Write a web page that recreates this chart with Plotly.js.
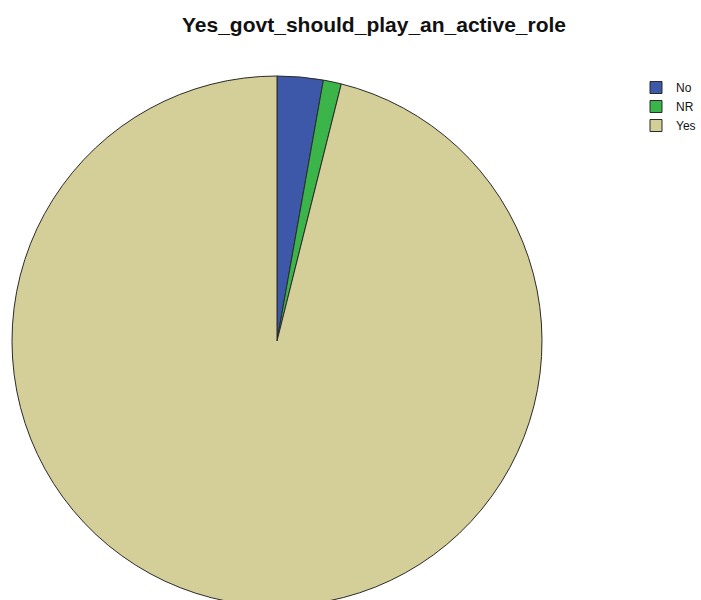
<!DOCTYPE html>
<html>
<head>
<meta charset="utf-8">
<script src="https://cdn.plot.ly/plotly-3.0.1.min.js"></script>
<style>html,body{margin:0;padding:0;overflow:hidden;background:#fff;}</style>
</head>
<body>
<div id="chart" style="width:701px;height:612px;"></div>
<script>
const categories = ["No", "NR", "Yes"];
const values = [2.8, 1.1, 96.1];
const colors = ["#3d58a8", "#3bb54a", "#d4ce98"];
const titleText = "Yes_govt_should_play_an_active_role";

const H = 612, W = 701;
const data = [{
  type: "pie",
  labels: categories,
  values: values,
  sort: false,
  direction: "clockwise",
  rotation: 0,
  textinfo: "none",
  hoverinfo: "label+percent",
  marker: {colors: colors, line: {color: "#2a2a2a", width: 1}},
  domain: {x: [12 / W, 542 / W], y: [1 - 606 / H, 1 - 76 / H]}
}];
const layout = {
  width: W, height: H,
  margin: {l: 0, r: 0, t: 0, b: 0},
  paper_bgcolor: "#fff",
  font: {family: "Liberation Sans, Arial, sans-serif", color: "#000"},
  title: {text: "<b>" + titleText + "</b>", font: {size: 21, family: "Liberation Sans, Arial, sans-serif", color: "#111"}, x: 374 / W, xanchor: "center", y: 1 - 25 / H, yanchor: "middle"},
  showlegend: true,
  legend: {x: 1, y: 1 - 73 / H, xanchor: "right", yanchor: "top", font: {size: 12, color: "#111"}, bgcolor: "rgba(0,0,0,0)"}
};
Plotly.newPlot("chart", data, layout, {displayModeBar: false, staticPlot: true});
</script>
</body>
</html>
